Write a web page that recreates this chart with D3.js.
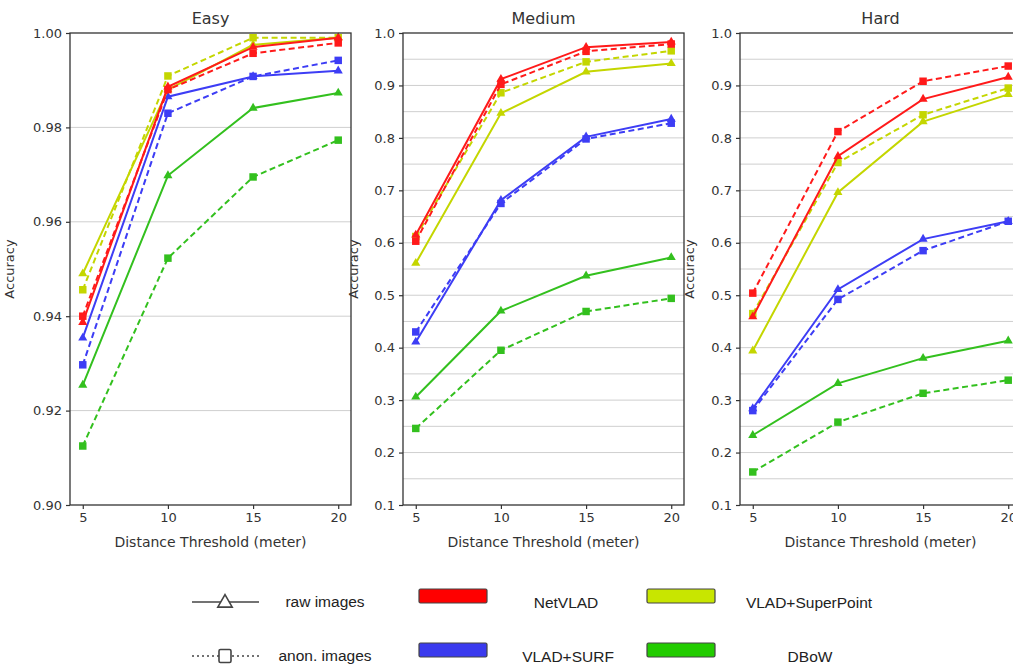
<!DOCTYPE html>
<html>
  <head>
    <meta charset="utf-8">
    <script src="https://cdnjs.cloudflare.com/ajax/libs/d3/7.8.5/d3.min.js"></script>
    <style>
        body { margin: 0; background: #fff; }
        .tick text { font-family: "DejaVu Sans", sans-serif; fill: #333; }
    </style>
  </head>

  <body>
    <div id="my_dataviz"></div>
  </body>

  <script>

    // ---- data ----
    let thresholds = [5, 10, 15, 20];
    let methods = ["NetVLAD", "VLAD+SURF", "VLAD+SuperPoint", "DBoW"];
    let colors = ["#ff1a1a", "#3d3df5", "#c4d600", "#33c01e"];
    let patchColors = ["#ff0000", "#3a3aee", "#c8e600", "#22cc00"];

    // rows follow the methods order
    let easyRaw = [
        [0.9387, 0.9886, 0.9970, 0.9990],
        [0.9354, 0.9865, 0.9908, 0.9920],
        [0.9490, 0.9880, 0.9975, 0.9990],
        [0.9254, 0.9698, 0.9841, 0.9873]];
    let easyAnon = [
        [0.9400, 0.9880, 0.9957, 0.9979],
        [0.9297, 0.9830, 0.9908, 0.9942],
        [0.9456, 0.9909, 0.9990, 0.9990],
        [0.9125, 0.9523, 0.9695, 0.9773]];

    let mediumRaw = [
        [0.615, 0.912, 0.973, 0.983],
        [0.411, 0.681, 0.802, 0.836],
        [0.561, 0.847, 0.926, 0.942],
        [0.306, 0.470, 0.537, 0.572]];
    let mediumAnon = [
        [0.603, 0.902, 0.965, 0.979],
        [0.430, 0.675, 0.798, 0.828],
        [0.612, 0.886, 0.945, 0.966],
        [0.246, 0.395, 0.469, 0.494]];

    let hardRaw = [
        [0.459, 0.765, 0.874, 0.916],
        [0.284, 0.511, 0.607, 0.641],
        [0.394, 0.696, 0.831, 0.883],
        [0.233, 0.332, 0.380, 0.413]];
    let hardAnon = [
        [0.504, 0.812, 0.908, 0.937],
        [0.280, 0.492, 0.585, 0.641],
        [0.465, 0.753, 0.844, 0.895],
        [0.163, 0.258, 0.313, 0.338]];

    let easyTicks = [0.90, 0.92, 0.94, 0.96, 0.98, 1.00];
    let otherTicks = [0.1, 0.2, 0.3, 0.4, 0.5, 0.6, 0.7, 0.8, 0.9, 1.0];
    let otherGrid = [0.15, 0.2, 0.25, 0.3, 0.35, 0.4, 0.45, 0.5, 0.55, 0.6, 0.65, 0.7, 0.75, 0.8, 0.85, 0.9, 0.95];

    let panels = [
        {title: "Easy", raw: easyRaw, anon: easyAnon, domain: [0.90, 1.00], ticks: easyTicks,
         grid: [0.92, 0.94, 0.96, 0.98], fmt: ".2f", left: 70, labelOff: -56},
        {title: "Medium", raw: mediumRaw, anon: mediumAnon, domain: [0.1, 1.0], ticks: otherTicks,
         grid: otherGrid, fmt: ".1f", left: 403, labelOff: -45},
        {title: "Hard", raw: hardRaw, anon: hardAnon, domain: [0.1, 1.0], ticks: otherTicks,
         grid: otherGrid, fmt: ".1f", left: 740, labelOff: -46}
    ];

    let W = 1013, H = 670;
    let plotTop = 33, plotBottom = 505, pw = 281;

    let svg = d3.select("#my_dataviz")
                .append("svg")
                    .attr("width", W)
                    .attr("height", H)
                    .style("display", "block");

    panels.forEach(function(p) {

        let g = svg.append("g")
                   .attr("transform", "translate(" + p.left + ",0)");

        let x = d3.scaleLinear()
                  .domain([4.25, 20.75])
                  .range([0, pw]);

        let y = d3.scaleLinear()
                  .domain(p.domain)
                  .range([plotBottom, plotTop]);

        // grid
        g.append("g")
         .selectAll("line")
         .data(p.grid)
         .enter()
         .append("line")
           .attr("x1", 0)
           .attr("x2", pw)
           .attr("y1", function(d) { return y(d) })
           .attr("y2", function(d) { return y(d) })
           .attr("stroke", "#cfcfcf")
           .attr("stroke-width", 1);

        // axes
        let xa = g.append("g")
                  .attr("transform", "translate(0," + plotBottom + ")")
                  .call(d3.axisBottom(x).tickValues(thresholds).tickSize(4).tickPadding(4));
        let ya = g.append("g")
                  .call(d3.axisLeft(y).tickValues(p.ticks).tickFormat(d3.format(p.fmt)).tickSize(4).tickPadding(4));
        [xa, ya].forEach(function(a) {
            a.select(".domain").remove();
            a.selectAll(".tick line").attr("stroke", "#333").attr("stroke-width", 1.2);
            a.selectAll(".tick text").style("font-size", "13px");
        });

        // lines
        let line = d3.line()
                     .x(function(d, i) { return x(thresholds[i]) })
                     .y(function(d) { return y(d) });

        [3, 1, 2, 0].forEach(function(m) {
            [["raw", null, d3.symbolTriangle, 36], ["anon", "6,3.5", d3.symbolSquare, 56]].forEach(function(s) {
                let vals = p[s[0]][m];
                g.append("path")
                 .datum(vals)
                 .attr("fill", "none")
                 .attr("stroke", colors[m])
                 .attr("stroke-width", 2)
                 .attr("stroke-dasharray", s[1])
                 .attr("d", line);
                g.append("g")
                 .selectAll("path")
                 .data(vals)
                 .enter()
                 .append("path")
                   .attr("d", d3.symbol().type(s[2]).size(s[3]))
                   .attr("transform", function(d, i) { return "translate(" + x(thresholds[i]) + "," + y(d) + ")" })
                   .attr("fill", colors[m]);
            });
        });

        // frame
        g.append("rect")
         .attr("x", 0)
         .attr("y", plotTop)
         .attr("width", pw)
         .attr("height", plotBottom - plotTop)
         .attr("fill", "none")
         .attr("stroke", "#333")
         .attr("stroke-width", 1.3);

        g.append("text")
         .attr("x", pw / 2)
         .attr("y", 24)
         .attr("text-anchor", "middle")
         .style("font-family", "DejaVu Sans")
         .style("font-size", "16px")
         .attr("fill", "#333")
         .text(p.title);

        g.append("text")
         .attr("x", pw / 2)
         .attr("y", 547)
         .attr("text-anchor", "middle")
         .style("font-family", "DejaVu Sans")
         .style("font-size", "14px")
         .attr("fill", "#333")
         .text("Distance Threshold (meter)");

        g.append("text")
         .attr("transform", "translate(" + (p.labelOff + 5) + "," + ((plotTop + plotBottom) / 2) + ") rotate(-90)")
         .attr("text-anchor", "middle")
         .attr("dy", "-0.35em")
         .style("font-family", "DejaVu Sans")
         .style("font-size", "13px")
         .attr("fill", "#333")
         .text("Accuracy");
    });

    // ---- legend ----
    let leg = svg.append("g");
    let styleLabels = ["raw images", "anon. images"];
    let rowY = [602, 656];

    leg.append("line").attr("x1", 192).attr("x2", 259).attr("y1", rowY[0]).attr("y2", rowY[0])
       .attr("stroke", "#444").attr("stroke-width", 1.6);
    leg.append("path").attr("d", d3.symbol().type(d3.symbolTriangle).size(90))
       .attr("transform", "translate(225," + (rowY[0] + 1) + ")")
       .attr("fill", "#fff").attr("stroke", "#444").attr("stroke-width", 1.6);
    leg.append("line").attr("x1", 192).attr("x2", 259).attr("y1", rowY[1]).attr("y2", rowY[1])
       .attr("stroke", "#444").attr("stroke-width", 1.6).attr("stroke-dasharray", "2,3");
    leg.append("rect").attr("x", 219).attr("y", rowY[1] - 6.5).attr("width", 12).attr("height", 13).attr("rx", 1.5)
       .attr("fill", "#fff").attr("stroke", "#444").attr("stroke-width", 1.6);

    styleLabels.forEach(function(t, i) {
        leg.append("text")
           .attr("x", 325)
           .attr("y", rowY[i] + 5)
           .attr("text-anchor", "middle")
           .style("font-family", "Liberation Sans, Arial, sans-serif")
           .style("font-size", "15.5px")
           .attr("fill", "#222")
           .text(t);
    });

    let patchX = [419, 419, 647, 647];
    let patchY = [589, 643, 589, 643];
    let textX = [566, 568, 809, 810];
    let textY = [603, 657, 603, 657];
    methods.forEach(function(m, i) {
        leg.append("rect")
           .attr("x", patchX[i]).attr("y", patchY[i])
           .attr("width", 68).attr("height", 14).attr("rx", 1.5)
           .attr("fill", patchColors[i])
           .attr("stroke", "#444").attr("stroke-width", 1.2);
        leg.append("text")
           .attr("x", textX[i])
           .attr("y", textY[i] + 5)
           .attr("text-anchor", "middle")
           .style("font-family", "Liberation Sans, Arial, sans-serif")
           .style("font-size", "15.5px")
           .attr("fill", "#222")
           .text(m);
    });

  </script>
</html>
